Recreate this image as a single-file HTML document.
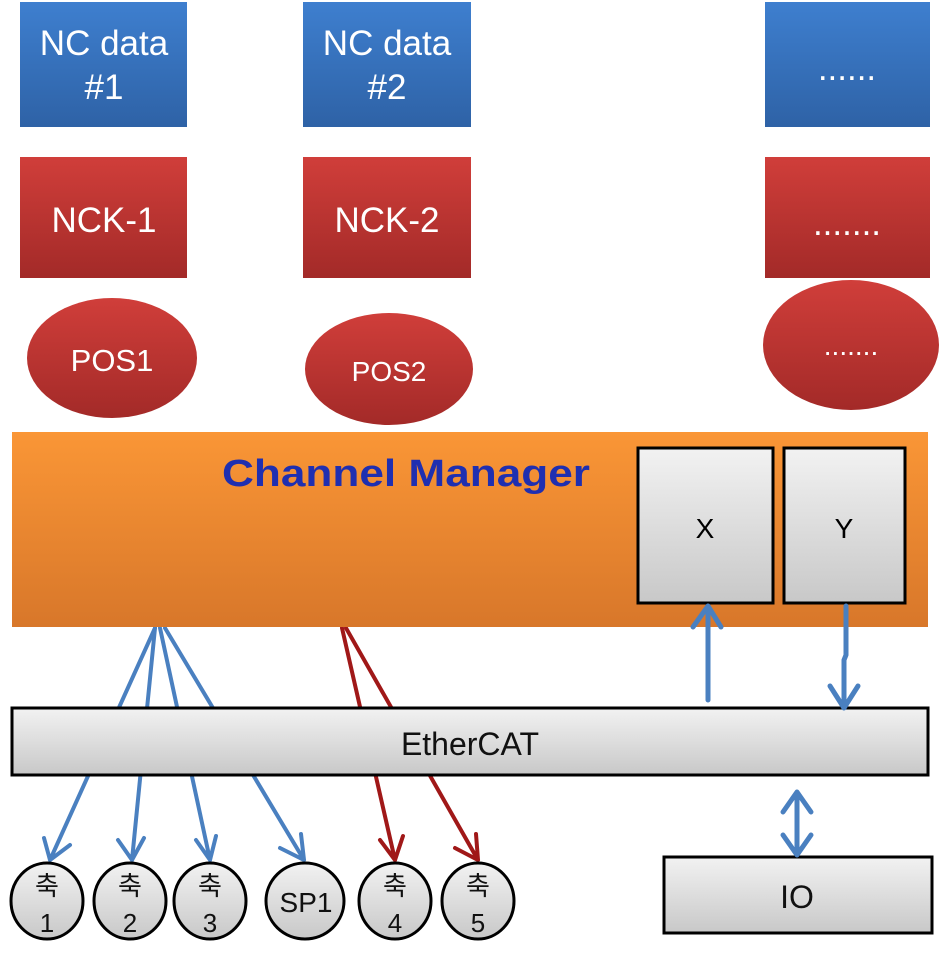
<!DOCTYPE html>
<html><head><meta charset="utf-8"><style>body{margin:0;background:#fff}svg{display:block}</style></head>
<body>
<svg width="943" height="959" viewBox="0 0 943 959" xmlns="http://www.w3.org/2000/svg" font-family="'Liberation Sans','Noto Sans CJK KR',sans-serif">
<defs>
<linearGradient id="bl" x1="0" y1="0" x2="0" y2="1"><stop offset="0" stop-color="#3e7fcf"/><stop offset="1" stop-color="#2e62a6"/></linearGradient>
<linearGradient id="rd" x1="0" y1="0" x2="0" y2="1"><stop offset="0" stop-color="#d03e3a"/><stop offset="1" stop-color="#a32a28"/></linearGradient>
<linearGradient id="or" x1="0" y1="0" x2="0" y2="1"><stop offset="0" stop-color="#fa9636"/><stop offset="1" stop-color="#d8772a"/></linearGradient>
<linearGradient id="gr" x1="0" y1="0" x2="0" y2="1"><stop offset="0" stop-color="#f2f2f2"/><stop offset="1" stop-color="#c8c8c8"/></linearGradient>
</defs>
<g fill="url(#bl)"><rect x="20" y="2" width="167" height="125"/><rect x="303" y="2" width="168" height="125"/><rect x="765" y="2" width="165" height="125"/></g>
<g fill="url(#rd)"><rect x="20" y="157" width="167" height="121"/><rect x="303" y="157" width="168" height="121"/><rect x="765" y="157" width="165" height="121"/>
<ellipse cx="112" cy="358" rx="85" ry="60"/><ellipse cx="389" cy="369" rx="84" ry="56"/><ellipse cx="851" cy="345" rx="88" ry="65"/></g>
<g fill="#fff" font-size="35" text-anchor="middle">
<text x="104" y="55">NC data</text><text x="104" y="99">#1</text>
<text x="387" y="55">NC data</text><text x="387" y="99">#2</text>
<text x="847" y="80">......</text>
<text x="104" y="232">NCK-1</text><text x="387" y="232">NCK-2</text><text x="847" y="235">.......</text>
<text x="112" y="371" font-size="31">POS1</text><text x="389" y="381" font-size="28">POS2</text><text x="851" y="355" font-size="28">.......</text>
</g>
<g fill="none" stroke="#4a80c0" stroke-width="4" stroke-linecap="round" stroke-linejoin="round">
<path d="M155 628 L50 860 M44 838 L50 860 L70 845"/>
<path d="M155 628 L132 860 M118 840 L132 860 L144 838"/>
<path d="M160 628 L210 860 M196 840 L210 860 L216 836"/>
<path d="M165 628 L304 860 M280 848 L304 860 L301 834"/>
</g>
<g fill="none" stroke="#a01818" stroke-width="4" stroke-linecap="round" stroke-linejoin="round">
<path d="M342 628 L395 860 M380 840 L395 860 L403 836"/>
<path d="M346 628 L478 860 M455 848 L478 860 L476 834"/>
</g>
<rect x="12" y="432" width="916" height="195" fill="url(#or)"/>
<text x="222" y="486" font-size="38" font-weight="bold" fill="#1f2fb0" textLength="368" lengthAdjust="spacingAndGlyphs">Channel Manager</text>
<rect x="638" y="448" width="135" height="155" fill="url(#gr)" stroke="#000" stroke-width="3"/>
<rect x="784" y="448" width="121" height="155" fill="url(#gr)" stroke="#000" stroke-width="3"/>
<text x="705" y="538" font-size="28" text-anchor="middle">X</text>
<text x="844" y="538" font-size="28" text-anchor="middle">Y</text>
<rect x="12" y="708" width="916" height="67" fill="url(#gr)" stroke="#000" stroke-width="3"/>
<text x="470" y="755" font-size="32" text-anchor="middle" fill="#111">EtherCAT</text>
<rect x="664" y="857" width="268" height="76" fill="url(#gr)" stroke="#000" stroke-width="3"/>
<text x="797" y="908" font-size="32" text-anchor="middle" fill="#111">IO</text>
<g fill="none" stroke="#4a80c0" stroke-width="5" stroke-linecap="round" stroke-linejoin="round">
<path d="M708 700 L708 606 M693 627 L708 606 L721 627"/>
<path d="M846 606 L846 655 L844 660 L844 708 M830 686 L844 708 L858 686"/>
<path d="M797 792 L797 855 M783 812 L797 792 L811 812 M783 835 L797 855 L811 835"/>
</g>
<g fill="url(#gr)" stroke="#000" stroke-width="3">
<ellipse cx="47" cy="901" rx="36" ry="38"/><ellipse cx="130" cy="901" rx="36" ry="38"/><ellipse cx="210" cy="901" rx="36" ry="38"/>
<ellipse cx="305" cy="901" rx="39" ry="38"/><ellipse cx="395" cy="901" rx="36" ry="38"/><ellipse cx="478" cy="901" rx="36" ry="38"/>
</g>
<g font-size="26" text-anchor="middle" fill="#111">
<text x="47" y="895">축</text><text x="47" y="932">1</text>
<text x="130" y="895">축</text><text x="130" y="932">2</text>
<text x="210" y="895">축</text><text x="210" y="932">3</text>
<text x="306" y="912" font-size="28">SP1</text>
<text x="395" y="895">축</text><text x="395" y="932">4</text>
<text x="478" y="895">축</text><text x="478" y="932">5</text>
</g>
</svg>
</body></html>
